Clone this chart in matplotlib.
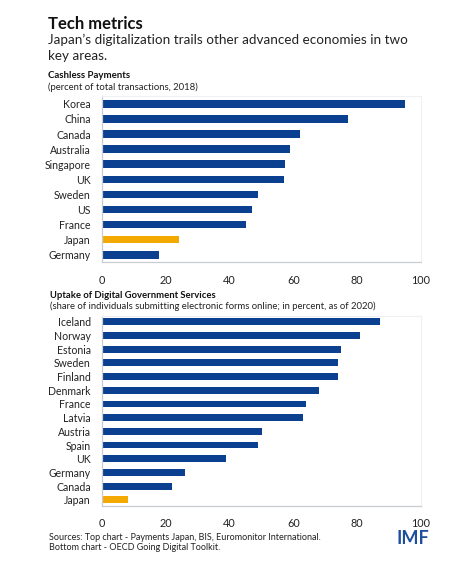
import matplotlib
matplotlib.use("Agg")
import matplotlib.pyplot as plt

plt.rcParams["font.family"] = ["Lato", "DejaVu Sans"]

# 数据
cash_countries = ["Korea", "China", "Canada", "Australia", "Singapore", "UK",
                  "Sweden", "US", "France", "Japan", "Germany"]
cash_values = [95, 77, 62, 59, 57.5, 57, 49, 47, 45, 24, 18]

gov_countries = ["Iceland", "Norway", "Estonia", "Sweden", "Finland", "Denmark",
                 "France", "Latvia", "Austria", "Spain", "UK", "Germany",
                 "Canada", "Japan"]
gov_values = [87, 81, 75, 74, 74, 68, 64, 63, 50, 49, 39, 26, 22, 8]

x_ticks = [0, 20, 40, 60, 80, 100]

BLUE = "#0B3F8F"
ORANGE = "#F4A900"
FRAME = "#C8CDD3"


def draw(ax, names, vals, pad_top, pad_bot):
    colors = [ORANGE if n == "Japan" else BLUE for n in names]
    ax.barh(range(len(names)), vals, height=0.5, color=colors)
    ax.set_yticks(range(len(names)))
    ax.set_yticklabels(names, fontsize=7.6, color="#222222")
    ax.set_ylim(len(names) - 1 + pad_bot, -pad_top)
    ax.set_xlim(0, 100)
    ax.set_xticks(x_ticks)
    ax.set_xticklabels([str(t) for t in x_ticks], fontsize=7.8, color="#222222")
    ax.tick_params(axis="both", length=0)
    ax.tick_params(axis="x", pad=9)
    ax.tick_params(axis="y", pad=8)
    for side in ["left", "bottom"]:
        ax.spines[side].set_color(FRAME)
        ax.spines[side].set_linewidth(0.9)
    for side in ["top", "right"]:
        ax.spines[side].set_color("#EEF0F3")
        ax.spines[side].set_linewidth(0.8)


fig = plt.figure(figsize=(4.5, 5.75), dpi=100)

ax1 = fig.add_axes([0.2267, 0.5443, 0.709, 0.289])
draw(ax1, cash_countries, cash_values, 0.53, 0.48)

ax2 = fig.add_axes([0.2267, 0.1205, 0.709, 0.330])
draw(ax2, gov_countries, gov_values, 0.43, 0.43)

# 标题
fig.text(48 / 450, 1 - 24 / 575, "Tech metrics", fontsize=12, fontweight="bold",
         va="center", ha="left", color="#111111")
fig.text(48 / 450, 1 - 39.5 / 575, "Japan\u2019s digitalization trails other advanced economies in two",
         fontsize=9.7, va="center", ha="left", color="#222222")
fig.text(48 / 450, 1 - 55.5 / 575, "key areas.", fontsize=9.7, va="center", ha="left",
         color="#222222")

fig.text(48 / 450, 1 - 75 / 575, "Cashless Payments", fontsize=6.9, fontweight="bold",
         va="center", ha="left", color="#111111")
fig.text(48 / 450, 1 - 87 / 575, "(percent of total transactions, 2018)", fontsize=6.8,
         va="center", ha="left", color="#222222")

fig.text(50 / 450, 1 - 295 / 575, "Uptake of Digital Government Services", fontsize=6.8,
         fontweight="bold", va="center", ha="left", color="#111111")
fig.text(50 / 450, 1 - 306 / 575,
         "(share of individuals submitting electronic forms online; in percent, as of 2020)",
         fontsize=6.8, va="center", ha="left", color="#222222")

fig.text(49 / 450, 1 - 537 / 575,
         "Sources: Top chart - Payments Japan, BIS, Euromonitor International.",
         fontsize=6.5, va="center", ha="left", color="#222222")
fig.text(49 / 450, 1 - 547 / 575, "Bottom chart - OECD Going Digital Toolkit.",
         fontsize=6.5, va="center", ha="left", color="#222222")

fig.text(429 / 450, 1 - 539 / 575, "IMF", fontsize=13, fontweight="bold",
         va="center", ha="right", color="#1F4E9C")

fig.savefig("out.png", dpi=100, facecolor="white")
